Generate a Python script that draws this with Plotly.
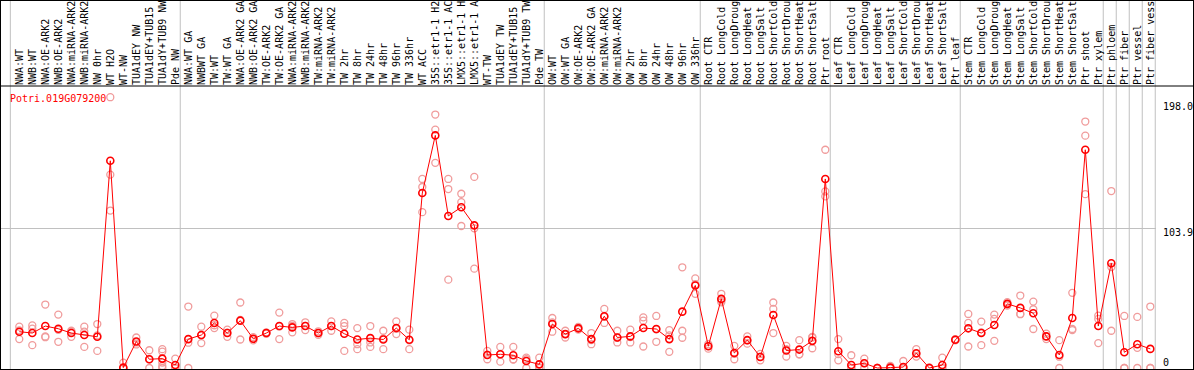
import plotly.graph_objects as go

categories = [
    "NWA:WT", "NWB:WT", "NWA:OE-ARK2", "NWB:OE-ARK2", "NWA:miRNA-ARK2", "NWB:miRNA-ARK2",
    "NW 0hr", "WT H2O", "WT-NW", "TUA1dEY NW", "TUA1dEY+TUB15", "TUA1dY+TUB9 NW", "Pde NW",
    "NWA:WT GA", "NWBWT GA", "TW:WT", "TW:WT GA", "NWA:OE-ARK2 GA", "NWB:OE-ARK2 GA",
    "TW:OE-ARK2", "TW:OE-ARK2 GA", "NWA:miRNA-ARK2", "NWB:miRNA-ARK2", "TW:miRNA-ARK2",
    "TW:miRNA-ARK2", "TW 2hr", "TW 8hr", "TW 24hr", "TW 48hr", "TW 96hr", "TW 336hr",
    "WT ACC", "35S::etr1-1 H2", "35S::etr1-1 AC", "LMX5::etr1-1 H", "LMX5::etr1-1 A",
    "WT-TW", "TUA1dEY TW", "TUA1dEY+TUB15", "TUA1dY+TUB9 TW", "Pde TW",
    "OW:WT", "OW:WT GA", "OW:OE-ARK2", "OW:OE-ARK2 GA", "OW:miRNA-ARK2", "OW:miRNA-ARK2",
    "OW 2hr", "OW 8hr", "OW 24hr", "OW 48hr", "OW 96hr", "OW 336hr",
    "Root CTR", "Root LongCold", "Root LongDroug", "Root LongHeat", "Root LongSalt",
    "Root ShortCold", "Root ShortDrou", "Root ShortHeat", "Root ShortSalt", "Ptr root",
    "Leaf CTR", "Leaf LongCold", "Leaf LongDroug", "Leaf LongHeat", "Leaf LongSalt",
    "Leaf ShortCold", "Leaf ShortDrou", "Leaf ShortHeat", "Leaf ShortSalt", "Ptr leaf",
    "Stem CTR", "Stem LongCold", "Stem LongDroug", "Stem LongHeat", "Stem LongSalt",
    "Stem ShortCold", "Stem ShortDrou", "Stem ShortHeat", "Stem ShortSalt", "Ptr shoot",
    "Ptr xylem", "Ptr phloem", "Ptr fiber", "Ptr vessel", "Ptr fiber vess",
]

means = [
    27.0, 26.0, 31.2, 29.2, 26.0, 24.5, 23.2, 154.1, 0.3, 19.7, 6.5, 7.0, 2.2,
    21.5, 24.5, 33.5, 26.0, 35.2, 21.7, 26.0, 31.2, 30.2, 31.2, 26.0, 31.2,
    25.5, 21.2, 22.2, 21.2, 29.7, 21.0, 130.1, 173.0, 113.1, 119.6, 106.1,
    9.7, 10.2, 9.5, 5.2, 2.7,
    32.7, 25.2, 29.5, 21.5, 38.5, 22.7, 23.5, 29.7, 29.0, 21.5, 41.9, 61.4,
    16.2, 51.4, 11.2, 20.7, 8.2, 39.4, 13.0, 13.7, 20.2, 140.6,
    12.5, 2.2, 3.5, 0.0, 0.3, 0.7, 11.0, 0.0, 2.2, 21.0,
    29.5, 26.0, 32.0, 47.7, 44.7, 40.7, 23.5, 9.7, 37.2, 162.3,
    31.2, 77.9, 11.7, 17.7, 14.2,
]

replicates = [
    [30.7, 28.0, 21.5], [31.7, 29.3, 17.0], [47.2, 23.5, 22.9], [39.7, 28.4, 19.5],
    [27.7, 27.1, 23.2], [30.7, 27.1, 15.7], [32.7, 24.2, 12.7], [201.4, 143.8, 117.1],
    [4.0, 0.0, 0.0], [22.7, 19.0, 17.5], [13.2, 6.5, 0.0], [14.0, 12.2, 4.0, 1.5, 0.0],
    [7.0, 0.0, 0.0],
    [45.7, 18.8, 0.0], [30.7, 24.3, 18.5], [39.0, 31.8, 29.7], [28.5, 26.3, 23.2],
    [48.7, 35.7, 21.2], [23.0, 21.7, 20.5], [26.5, 26.0, 25.5], [41.2, 30.9, 21.5],
    [32.7, 31.4, 26.5], [34.0, 31.4, 28.2], [27.3, 26.0, 24.7], [34.7, 31.2, 27.7],
    [33.5, 31.2, 12.7], [29.7, 17.7, 14.0], [31.2, 19.0, 15.7], [27.7, 21.9, 14.0],
    [34.7, 29.2, 25.2], [28.5, 20.5, 14.0], [140.6, 134.6, 115.9], [188.5, 177.3, 152.6],
    [140.6, 133.1, 65.7], [129.6, 123.3, 105.6], [142.1, 103.9, 73.9],
    [12.7, 9.9, 6.5], [15.7, 10.2, 4.7], [15.7, 6.5, 6.3], [7.7, 6.5, 0.0], [7.7, 0.5, 0.0],
    [37.2, 33.9, 27.0], [27.7, 25.2, 22.7], [30.5, 29.5, 28.5], [26.0, 20.8, 17.7],
    [43.9, 38.1, 33.5], [27.7, 22.5, 19.0], [28.5, 23.0, 19.0], [37.7, 35.2, 16.0],
    [38.7, 28.8, 19.5], [28.2, 24.3, 12.0], [74.9, 27.7, 22.5], [66.7, 62.3, 55.2],
    [17.7, 16.5, 14.4], [55.2, 50.1, 48.9], [16.5, 10.6, 6.5], [23.5, 20.5, 18.1],
    [10.5, 8.4, 5.7], [48.7, 43.9, 26.0], [16.5, 14.0, 8.5], [20.7, 10.2, 10.2],
    [23.2, 22.7, 14.7], [162.3, 131.3, 127.6],
    [21.5, 10.3, 5.7], [9.5, 0.0, 0.0], [7.0, 3.5, 0.0], [0.0, 0.0, 0.0], [1.5, 0.0, 0.0],
    [5.2, 0.0, 0.0], [14.0, 10.5, 8.5], [0.5, 0.0, 0.0], [7.7, 0.0, 0.0], [21.5, 21.0, 20.5],
    [40.2, 33.5, 16.0], [34.5, 26.5, 17.0], [39.7, 36.5, 20.2], [49.0, 47.7, 46.5],
    [53.9, 40.2, 40.0], [49.4, 43.7, 29.0], [25.5, 23.5, 21.5], [20.7, 8.4, 0.0],
    [55.9, 29.0, 28.2], [183.3, 172.8, 129.3],
    [39.0, 36.5, 18.5], [131.6, 75.1, 27.7], [38.7, 0.0, 0.0], [38.0, 15.0, 0.0],
    [45.7, 0.0, 0.0],
]

group_ends = [12, 40, 52, 62, 72, 83, 84, 85, 86, 87]
y_tick_vals = [198.0, 103.9, 0.0]
y_tick_text = ["198.0", "103.9", "0"]
gene = "Potri.019G079200"

# ---- layout geometry ----
W, H = 1194, 370
L, R, T, B = 1, 38, 86, 1
PW = W - L - R
PH = H - T - B
x0px, dx = 19.3, 13.0
x_range = [(L - x0px) / dx, (L + PW - x0px) / dx]
zero_px, scale = 368.0, 1.3446
y_range = [-(H - B - zero_px) / scale, (zero_px - T) / scale]


def pxx(q):
    return (q - L) / PW


def pxy(p):
    return (H - B - p) / PH


FONT = "DejaVu Sans Mono"
GRID = "#c0c0c0"

rep_x = [i for i, reps in enumerate(replicates) for _ in reps]
rep_y = [v for reps in replicates for v in reps]

fig = go.Figure()
fig.add_trace(go.Scatter(
    x=rep_x, y=rep_y, mode="markers",
    marker=dict(symbol="circle-open", size=7, color="#f09c9c", line=dict(width=1.3, color="#f09c9c")),
    hoverinfo="skip", showlegend=False,
))
fig.add_trace(go.Scatter(
    x=list(range(len(categories))), y=means, mode="lines+markers",
    line=dict(color="#ff0000", width=1),
    marker=dict(symbol="circle-open", size=7, color="#ff0000", line=dict(width=1.6, color="#ff0000")),
    showlegend=False,
))

shapes = []
sep_positions = [-0.69] + [e + 0.38 for e in group_ends]
for s in sep_positions:
    shapes.append(dict(type="line", xref="x", yref="paper", x0=s, x1=s,
                       y0=pxy(H), y1=pxy(0), line=dict(color=GRID, width=1), layer="below"))
# frame lines
blk = dict(color="#000000", width=1)
shapes += [
    dict(type="line", xref="paper", yref="paper", x0=pxx(0), x1=pxx(W), y0=pxy(0.5), y1=pxy(0.5), line=blk),
    dict(type="line", xref="paper", yref="paper", x0=pxx(0), x1=pxx(W), y0=pxy(86), y1=pxy(86), line=blk),
    dict(type="line", xref="paper", yref="paper", x0=pxx(0), x1=pxx(W), y0=pxy(369.5), y1=pxy(369.5), line=blk),
    dict(type="line", xref="paper", yref="paper", x0=pxx(0.5), x1=pxx(0.5), y0=pxy(0), y1=pxy(H), line=blk),
    dict(type="line", xref="paper", yref="paper", x0=pxx(1193.5), x1=pxx(1193.5), y0=pxy(0), y1=pxy(H), line=blk),
]

annotations = [dict(
    text=gene, xref="paper", yref="paper", x=pxx(8), y=pxy(98.5),
    xanchor="left", yanchor="middle", showarrow=False,
    font=dict(family=FONT, size=10, color="#ff0000"),
)]
shifts = [-4.5, -4.5, 6]
for v, t, sh in zip(y_tick_vals, y_tick_text, shifts):
    annotations.append(dict(
        text=t, xref="paper", yref="y", x=1.0, y=v, xshift=5, yshift=sh,
        xanchor="left", yanchor="middle", showarrow=False,
        font=dict(family=FONT, size=10, color="#000000"),
    ))

fig.update_layout(
    width=W, height=H,
    margin=dict(l=L, r=R, t=T, b=B, pad=0),
    paper_bgcolor="white", plot_bgcolor="white",
    shapes=shapes, annotations=annotations,
    xaxis=dict(
        side="top", range=x_range, tickmode="array",
        tickvals=list(range(len(categories))), ticktext=categories,
        tickangle=-90, tickfont=dict(family=FONT, size=10, color="#000000"),
        showgrid=False, zeroline=False, showline=False, ticks="", automargin=False,
        fixedrange=True,
    ),
    yaxis=dict(
        range=y_range, tickmode="array", tickvals=[103.9], showticklabels=False,
        showgrid=True, gridcolor=GRID, gridwidth=1, zeroline=False, ticks="",
        showline=False, automargin=False, fixedrange=True,
    ),
    hovermode=False,
)

fig.write_html(
    "out.html",
    config={"displayModeBar": False},
    post_script="document.body.style.margin='0';document.body.style.padding='0';document.body.style.overflow='hidden';",
)
